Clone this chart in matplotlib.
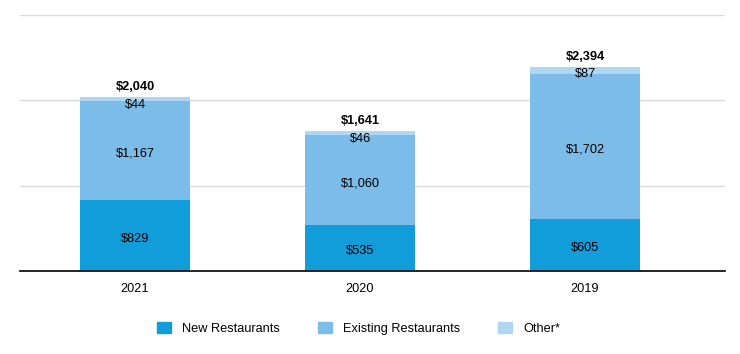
import numpy as np
import matplotlib
matplotlib.use("Agg")
import matplotlib.pyplot as plt
from matplotlib.patches import Patch

plt.rcParams['font.family'] = ['Liberation Sans', 'DejaVu Sans']

years = ['2021', '2020', '2019']
new_rest = [829, 535, 605]
existing_rest = [1167, 1060, 1702]
other = [44, 46, 87]
series_names = ['New Restaurants', 'Existing Restaurants', 'Other*']
colors = ['#109dd9', '#7bbde8', '#b0d7f1']

fs = 9.2

fig = plt.figure(figsize=(7.4, 3.54), dpi=100)
ax = fig.add_axes([20 / 740, 83 / 354, 705 / 740, 256 / 354])

x = np.arange(len(years))
w = 0.489
new_rest = np.array(new_rest)
existing_rest = np.array(existing_rest)
other = np.array(other)
totals = new_rest + existing_rest + other

ax.bar(x, new_rest, w, color=colors[0], zorder=2)
ax.bar(x, existing_rest, w, bottom=new_rest, color=colors[1], zorder=2)
ax.bar(x, other, w, bottom=new_rest + existing_rest, color=colors[2], zorder=2)

def seg_label(xp, yp, val):
    ax.annotate('${:,}'.format(val), (xp, yp), xytext=(0, -2.2), textcoords='offset points',
                ha='center', va='center', fontsize=fs, zorder=3)

for i in range(len(years)):
    seg_label(x[i], new_rest[i] / 2, new_rest[i])
    seg_label(x[i], new_rest[i] + existing_rest[i] / 2, existing_rest[i])
    seg_label(x[i], totals[i] - 55, other[i])
    ax.annotate('${:,}'.format(totals[i]), (x[i], totals[i]), xytext=(0, 2.8), textcoords='offset points',
                ha='center', va='bottom', fontsize=fs, fontweight='bold')

ax.set_xlim(-0.511, 2.622)
ax.set_ylim(0, 3000)
ax.set_yticks([1000, 2000, 3000])
ax.yaxis.grid(True, color='#d9d9d9', linewidth=1, zorder=0)
ax.tick_params(axis='y', left=False, labelleft=False)
ax.set_xticks(x)
ax.set_xticklabels(years, fontsize=fs)
ax.tick_params(axis='x', length=0, pad=8.5)
for s in ['top', 'right', 'left']:
    ax.spines[s].set_visible(False)
ax.spines['bottom'].set_color('black')
ax.spines['bottom'].set_linewidth(1.2)

handles = [Patch(color=c, label=n) for c, n in zip(colors, series_names)]
fig.legend(handles=handles, loc='center left', bbox_to_anchor=(156.7 / 740, 1 - 328.5 / 354), ncol=3,
           frameon=False, fontsize=fs, handlelength=1.1, handleheight=1.0, handletextpad=0.86,
           columnspacing=3.0, borderpad=0, borderaxespad=0)

fig.savefig('out.png', dpi=100)
